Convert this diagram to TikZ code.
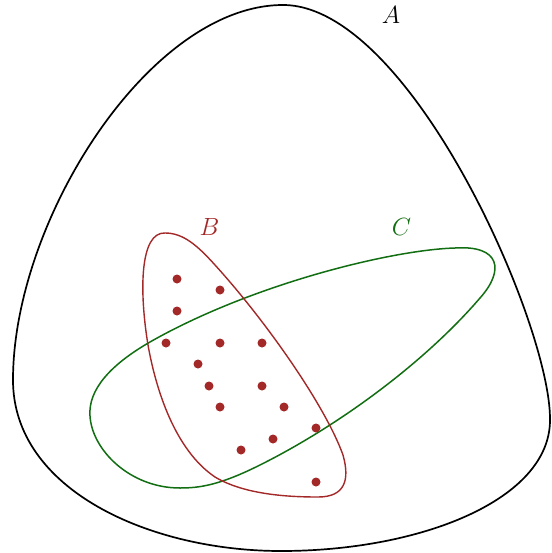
\documentclass[tikz,border=0pt]{standalone}
\definecolor{setred}{RGB}{163,40,40}
\definecolor{setgreen}{RGB}{18,110,18}
\begin{document}
\begin{tikzpicture}[x=1pt,y=-1pt,
  outline/.style={line width=1.7pt, line join=round},
  dotmark/.style={circle, fill=setred, inner sep=0pt, minimum size=9pt},
  lbl/.style={font=\fontsize{25}{30}\selectfont, inner sep=0pt}]
\useasboundingbox (0,0) rectangle (551,553);
% set A
\draw[outline, black] (283,5) .. controls (150,5) and (13,220) .. (13,380)
  .. controls (13,490) and (150,551) .. (281,551)
  .. controls (420,551) and (550,500) .. (550,420)
  .. controls (551,325) and (410,5) .. cycle;
% set C
\draw[outline, setgreen, line width=1.5pt] (90,416)
  .. controls (88,390) and (110,365) .. (150,342)
  .. controls (250,285) and (390,250) .. (455,248)
  .. controls (500,245) and (505,270) .. (480,298)
  .. controls (425,362) and (340,425) .. (260,465)
  .. controls (220,485) and (200,488) .. (180,488)
  .. controls (130,488) and (92,450) .. cycle;
% set B
\draw[outline, setred, line width=1.4pt] (165,233)
  .. controls (140,232) and (139,290) .. (148,345)
  .. controls (156,390) and (175,450) .. (215,477)
  .. controls (245,495) and (290,497) .. (318,497)
  .. controls (345,497) and (350,480) .. (343,455)
  .. controls (325,405) and (265,320) .. (215,265)
  .. controls (197,245) and (183,233) .. cycle;
% labels
\node[lbl] (la) at (391,15) {$A$};
\node[lbl, text=setred] (lb) at (209.5,227) {$B$};
\node[lbl, text=setgreen] (lc) at (401.5,227) {$C$};
% elements
\foreach \i/\x/\y in {1/177/279, 2/220/290, 3/177/311, 4/166/343, 5/220/343,
  6/262/343, 7/198/364, 8/209/386, 9/262/386, 10/220/407, 11/284/407,
  12/316/428, 13/273/439, 14/241/450, 15/316/482}
  \node[dotmark] (d\i) at (\x,\y) {};
\end{tikzpicture}
\end{document}
